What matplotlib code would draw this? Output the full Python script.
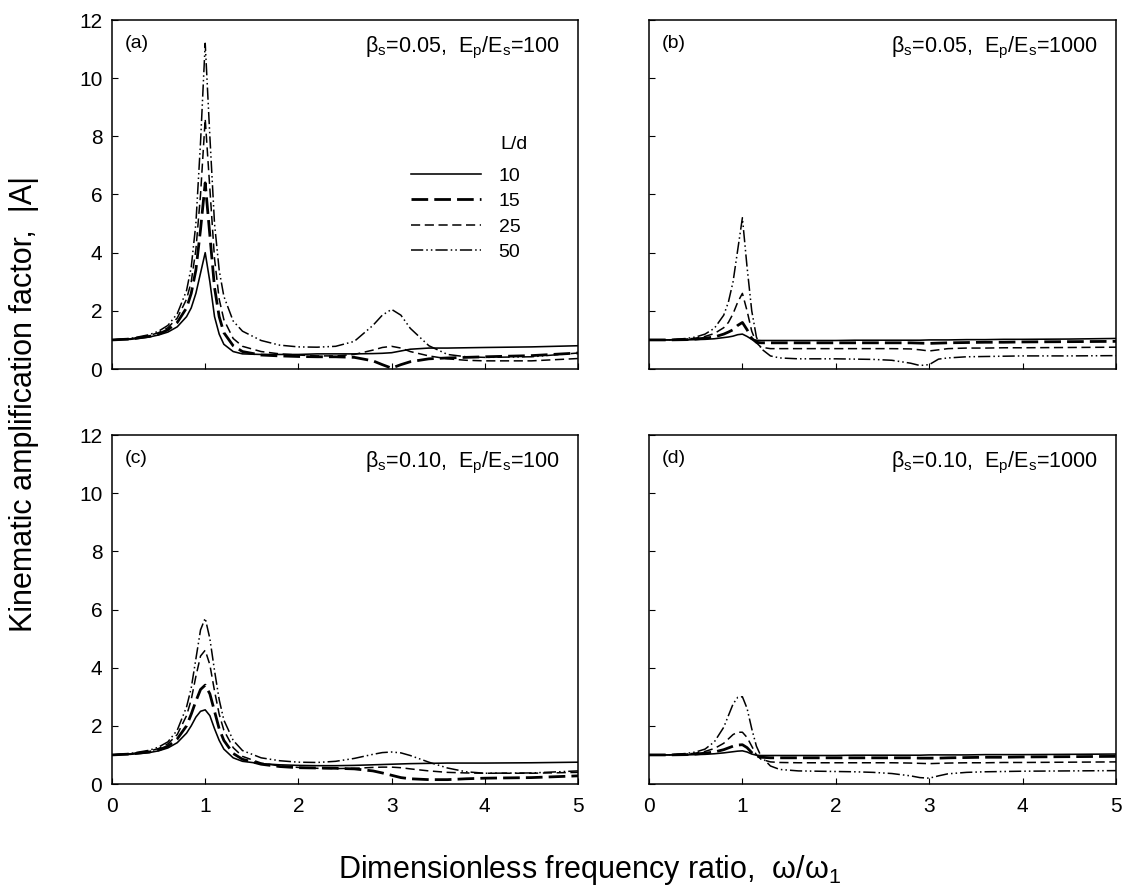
import matplotlib
matplotlib.use("Agg")
import matplotlib.pyplot as plt

plt.rcParams['font.family'] = ['Liberation Sans', 'DejaVu Sans']
plt.rcParams['mathtext.fontset'] = 'custom'
plt.rcParams['mathtext.rm'] = 'Liberation Sans'
plt.rcParams['mathtext.it'] = 'Liberation Sans'
plt.rcParams['mathtext.bf'] = 'Liberation Sans'

# frequency ratio grid (w/w1)
freq = [0, 0.2, 0.4, 0.5, 0.6, 0.7, 0.8, 0.85, 0.9, 0.95, 1.0, 1.05, 1.1, 1.15, 1.2,
        1.3, 1.4, 1.6, 1.8, 2.0, 2.2, 2.4, 2.6, 2.8, 2.9, 3.0, 3.1, 3.2, 3.4, 3.6,
        3.8, 4.0, 4.5, 5.0]

slenderness = ['10', '15', '25', '50']

# (a) beta_s = 0.05, Ep/Es = 100
a_10 = [1.0, 1.02, 1.1, 1.17, 1.27, 1.45, 1.8, 2.1, 2.6, 3.3, 4.0, 3.0, 1.8, 1.2, 0.85,
        0.6, 0.52, 0.5, 0.5, 0.5, 0.52, 0.52, 0.52, 0.53, 0.54, 0.56, 0.62, 0.68, 0.72, 0.72,
        0.73, 0.74, 0.76, 0.8]
a_15 = [1.0, 1.03, 1.12, 1.2, 1.35, 1.6, 2.1, 2.6, 3.4, 4.8, 6.4, 4.6, 2.8, 1.8, 1.25,
        0.8, 0.6, 0.48, 0.45, 0.43, 0.42, 0.42, 0.4, 0.28, 0.15, 0.03, 0.15, 0.25, 0.35, 0.38,
        0.4, 0.42, 0.46, 0.55]
a_25 = [1.0, 1.04, 1.15, 1.25, 1.42, 1.75, 2.4, 3.0, 4.1, 6.0, 8.6, 6.2, 3.8, 2.4, 1.7,
        1.05, 0.78, 0.6, 0.52, 0.48, 0.45, 0.45, 0.5, 0.65, 0.74, 0.78, 0.72, 0.6, 0.45, 0.35,
        0.3, 0.28, 0.28, 0.36]
a_50 = [1.0, 1.05, 1.18, 1.3, 1.5, 1.9, 2.7, 3.5, 5.0, 7.8, 11.2, 8.0, 5.0, 3.4, 2.5,
        1.65, 1.3, 0.98, 0.82, 0.76, 0.75, 0.78, 0.95, 1.5, 1.85, 2.05, 1.85, 1.4, 0.8, 0.5,
        0.42, 0.4, 0.42, 0.55]

# (b) beta_s = 0.05, Ep/Es = 1000
b_10 = [1.0, 1.0, 1.0, 1.01, 1.02, 1.04, 1.08, 1.1, 1.13, 1.18, 1.2, 1.12, 1.02, 0.99, 0.98,
        0.98, 0.98, 0.98, 0.98, 0.98, 0.99, 0.99, 0.99, 0.99, 0.99, 1.0, 1.0, 1.0, 1.01, 1.01,
        1.02, 1.02, 1.03, 1.05]
b_15 = [1.0, 1.0, 1.01, 1.03, 1.06, 1.1, 1.2, 1.27, 1.35, 1.5, 1.6, 1.35, 1.05, 0.92, 0.9,
        0.9, 0.9, 0.9, 0.9, 0.9, 0.9, 0.9, 0.9, 0.9, 0.89, 0.88, 0.89, 0.9, 0.91, 0.92,
        0.92, 0.93, 0.94, 0.95]
b_25 = [1.0, 1.0, 1.03, 1.06, 1.12, 1.22, 1.42, 1.6, 1.9, 2.3, 2.6, 2.0, 1.3, 0.9, 0.75,
        0.7, 0.7, 0.7, 0.7, 0.7, 0.7, 0.7, 0.7, 0.69, 0.66, 0.62, 0.66, 0.7, 0.72, 0.72,
        0.73, 0.73, 0.74, 0.75]
b_50 = [1.0, 1.0, 1.05, 1.1, 1.2, 1.4, 1.85, 2.3, 3.0, 4.1, 5.2, 3.5, 2.0, 1.1, 0.7,
        0.45, 0.38, 0.35, 0.35, 0.35, 0.34, 0.33, 0.3, 0.2, 0.12, 0.15, 0.34, 0.38, 0.42, 0.43,
        0.44, 0.45, 0.45, 0.46]

# (c) beta_s = 0.10, Ep/Es = 100
c_10 = [1.0, 1.02, 1.08, 1.14, 1.24, 1.42, 1.75, 2.0, 2.3, 2.5, 2.55, 2.35, 1.9, 1.5, 1.2,
        0.9, 0.78, 0.7, 0.66, 0.64, 0.63, 0.63, 0.64, 0.66, 0.67, 0.68, 0.69, 0.7, 0.71, 0.72,
        0.72, 0.72, 0.73, 0.75]
c_15 = [1.0, 1.03, 1.1, 1.17, 1.3, 1.55, 2.0, 2.4, 2.85, 3.25, 3.4, 3.1, 2.5, 1.9, 1.5,
        1.05, 0.85, 0.68, 0.6, 0.56, 0.55, 0.54, 0.52, 0.45, 0.38, 0.3, 0.22, 0.18, 0.15, 0.15,
        0.18, 0.2, 0.22, 0.28]
c_25 = [1.0, 1.04, 1.13, 1.22, 1.38, 1.7, 2.35, 2.9, 3.7, 4.4, 4.6, 4.1, 3.2, 2.4, 1.85,
        1.25, 0.95, 0.72, 0.62, 0.57, 0.54, 0.53, 0.54, 0.57, 0.58, 0.58, 0.56, 0.52, 0.45, 0.4,
        0.38, 0.37, 0.37, 0.4]
c_50 = [1.0, 1.05, 1.16, 1.27, 1.45, 1.85, 2.65, 3.3, 4.3, 5.3, 5.7, 5.0, 3.9, 2.9, 2.2,
        1.5, 1.15, 0.9, 0.8, 0.75, 0.74, 0.78, 0.88, 1.02, 1.08, 1.1, 1.07, 0.98, 0.75, 0.55,
        0.42, 0.37, 0.38, 0.45]

# (d) beta_s = 0.10, Ep/Es = 1000
d_10 = [1.0, 1.0, 1.0, 1.01, 1.02, 1.04, 1.07, 1.09, 1.11, 1.13, 1.14, 1.1, 1.03, 0.99, 0.98,
        0.98, 0.98, 0.98, 0.98, 0.98, 0.99, 0.99, 0.99, 0.99, 0.99, 1.0, 1.0, 1.0, 1.0, 1.01,
        1.01, 1.01, 1.02, 1.03]
d_15 = [1.0, 1.0, 1.01, 1.03, 1.06, 1.1, 1.18, 1.24, 1.3, 1.34, 1.35, 1.25, 1.08, 0.96, 0.92,
        0.9, 0.9, 0.9, 0.9, 0.9, 0.9, 0.9, 0.9, 0.9, 0.89, 0.89, 0.89, 0.9, 0.91, 0.92,
        0.92, 0.93, 0.94, 0.95]
d_25 = [1.0, 1.0, 1.03, 1.06, 1.12, 1.22, 1.4, 1.55, 1.7, 1.78, 1.78, 1.6, 1.3, 1.0, 0.85,
        0.76, 0.74, 0.73, 0.73, 0.73, 0.73, 0.73, 0.73, 0.72, 0.71, 0.7, 0.71, 0.72, 0.73, 0.73,
        0.74, 0.74, 0.75, 0.76]
d_50 = [1.0, 1.0, 1.05, 1.1, 1.2, 1.45, 1.95, 2.35, 2.75, 2.98, 3.0, 2.6, 1.9, 1.3, 0.95,
        0.62, 0.5, 0.45, 0.44, 0.43, 0.42, 0.4, 0.36, 0.28, 0.22, 0.2, 0.28, 0.35, 0.4, 0.42,
        0.43, 0.44, 0.45, 0.46]

panel_tags = ['(a)', '(b)', '(c)', '(d)']
panel_params = [r'β$_\mathrm{s}$=0.05,  E$_\mathrm{p}$/E$_\mathrm{s}$=100',
                r'β$_\mathrm{s}$=0.05,  E$_\mathrm{p}$/E$_\mathrm{s}$=1000',
                r'β$_\mathrm{s}$=0.10,  E$_\mathrm{p}$/E$_\mathrm{s}$=100',
                r'β$_\mathrm{s}$=0.10,  E$_\mathrm{p}$/E$_\mathrm{s}$=1000']
panel_series = [[a_10, a_15, a_25, a_50],
                [b_10, b_15, b_25, b_50],
                [c_10, c_15, c_25, c_50],
                [d_10, d_15, d_25, d_50]]

styles = [dict(linestyle='-', linewidth=1.15),
          dict(linestyle=(0, (6, 2.2)), linewidth=2.0),
          dict(linestyle=(0, (6, 3)), linewidth=1.1),
          dict(linestyle=(0, (8, 2, 1, 2, 1, 2)), linewidth=1.1)]

W, H = 1125, 888
fig = plt.figure(figsize=(W / 100, H / 100), dpi=100)

boxes = [(112, 20, 466, 349), (649, 20, 467, 349),
         (112, 435, 466, 349), (649, 435, 467, 349)]

for i, (x0, y0, w, h) in enumerate(boxes):
    ax = fig.add_axes([x0 / W, 1 - (y0 + h) / H, w / W, h / H])
    for ys, lab, st in zip(panel_series[i], slenderness, styles):
        ax.plot(freq, ys, color='black', label=lab, **st)
    ax.set_xlim(0, 5)
    ax.set_ylim(0, 12)
    ax.set_xticks(range(0, 6))
    ax.set_yticks(range(0, 13, 2))
    ax.tick_params(direction='in', length=4, width=0.8, labelsize=15)
    ax.tick_params(axis='x', pad=9)
    ax.tick_params(axis='y', pad=7)
    if i in (1, 3):
        ax.tick_params(labelleft=False)
    if i in (0, 1):
        ax.tick_params(labelbottom=False)
    for sp in ax.spines.values():
        sp.set_linewidth(1.1)
    ax.text(0.028, 0.934, panel_tags[i], transform=ax.transAxes, fontsize=14,
            ha='left', va='center')
    ax.text(0.962, 0.92, panel_params[i], transform=ax.transAxes, fontsize=15.5,
            ha='right', va='center')
    if i == 0:
        ax.legend(loc='upper left', bbox_to_anchor=(0.642, 0.578),
                  frameon=False, fontsize=14,
                  handlelength=3.6, handletextpad=0.9, labelspacing=0.4,
                  borderpad=0, borderaxespad=0)
        ax.text(0.833, 0.644, 'L/d', transform=ax.transAxes, fontsize=14,
                ha='left', va='center')

fig.text(590 / W, 1 - 878 / H, r'Dimensionless frequency ratio,  ω/ω$_\mathrm{1}$',
         ha='center', va='baseline', fontsize=22)
fig.text(24 / W, 1 - 404 / H, 'Kinematic amplification factor,  |A|',
         ha='center', va='center', rotation=90, fontsize=22)

fig.savefig('out.png', dpi=100)
